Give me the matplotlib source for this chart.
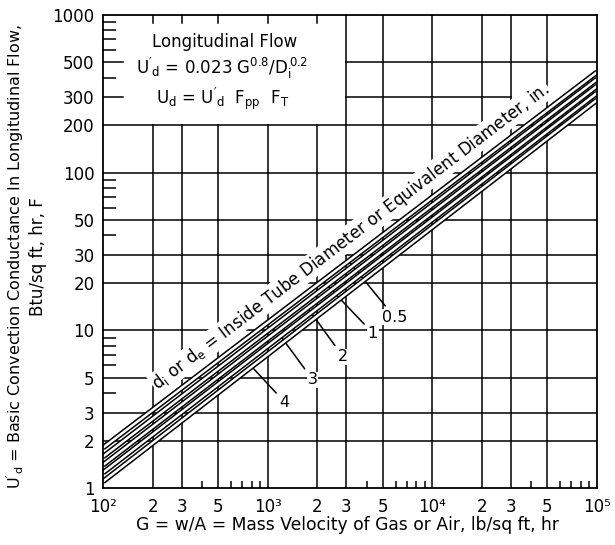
import numpy as np
import matplotlib
matplotlib.use("Agg")
import matplotlib.pyplot as plt
from matplotlib.ticker import FixedLocator, NullFormatter

plt.rcParams['font.family'] = ['DejaVu Sans']
plt.rcParams['mathtext.default'] = 'regular'

# ---------------- data ----------------
diameters = ['0.5', '1', '2', '3', '4']          # inches
g_range = [1e2, 1e5]                              # lb/sq ft hr
u_at_gmin = [1.8, 1.58, 1.4, 1.25, 1.1]           # U'd at G = 1e2
u_at_gmax = [434, 392, 354, 320, 289]             # U'd at G = 1e5

x_ticks = [1e2, 2e2, 3e2, 5e2, 1e3, 2e3, 3e3, 5e3, 1e4, 2e4, 3e4, 5e4, 1e5]
x_tick_labels = ['10²', '2', '3', '5', '10³', '2', '3', '5', '10⁴', '2', '3', '5', '10⁵']
y_ticks = [1, 2, 3, 5, 10, 20, 30, 50, 100, 200, 300, 500, 1000]
y_tick_labels = ['1', '2', '3', '5', '10', '20', '30', '50', '100', '200', '300', '500', '1000']

# label positions (G, U) and leader target G for each diameter
label_pos = [(5900, 12.1), (4350, 9.6), (2870, 6.8), (1880, 4.85), (1270, 3.5)]
leader_target_g = [3100, 2300, 1750, 1200, 800]

# ---------------- figure ----------------
W, H = 615, 545
fig = plt.figure(figsize=(W / 100, H / 100), dpi=100)
L, R, T, B = 103, 597, 15, 488
ax = fig.add_axes([L / W, 1 - B / H, (R - L) / W, (B - T) / H])
ax.set_xscale('log')
ax.set_yscale('log')
ax.set_xlim(g_range[0], g_range[1])
ax.set_ylim(1, 1000)

for s in ax.spines.values():
    s.set_linewidth(1.3)
    s.set_zorder(5)

ax.set_xticks(x_ticks)
ax.set_xticklabels(x_tick_labels, fontsize=12)
ax.set_yticks(y_ticks)
ax.set_yticklabels(y_tick_labels, fontsize=12)

mult = [4, 6, 7, 8, 9]
ax.xaxis.set_minor_locator(FixedLocator([m * d for d in (1e2, 1e3, 1e4) for m in mult]))
ax.yaxis.set_minor_locator(FixedLocator([m * d for d in (1, 10, 100) for m in mult]))
ax.xaxis.set_minor_formatter(NullFormatter())
ax.yaxis.set_minor_formatter(NullFormatter())
ax.tick_params(axis='x', which='major', length=0, pad=7)
ax.tick_params(axis='y', which='major', length=0, pad=6)
ax.tick_params(axis='x', which='minor', direction='in', length=5, width=1.1)
ax.tick_params(axis='y', which='minor', direction='in', length=9, width=1.1)

# ---------------- grid (with blank box at top-left) ----------------
gl = dict(color='black', lw=1.1, zorder=1)
frac200 = np.log10(200) / 3
for xv in x_ticks[1:-1]:
    if xv < 3e3:
        ax.axvline(xv, 0, frac200, **gl)
        ax.axvline(xv, 1 - 8 / 473, 1, **gl)
    else:
        ax.axvline(xv, 0, 1, **gl)
fx3e3 = np.log10(30) / 3
fx3e4 = np.log10(300) / 3
for yv in y_ticks[1:-1]:
    if yv == 300:
        ax.axhline(yv, fx3e3, fx3e4, **gl)
        ax.axhline(yv, 0, 20 / 494, **gl)
    elif yv == 500:
        ax.axhline(yv, fx3e3, 1, **gl)
        ax.axhline(yv, 0, 20 / 494, **gl)
    else:
        ax.axhline(yv, 0, 1, **gl)

# ---------------- diameter lines (hollow strokes) ----------------
for u0, u1 in zip(u_at_gmin, u_at_gmax):
    ax.plot(g_range, [u0, u1], color='black', lw=4.0, solid_capstyle='butt', zorder=3)
for u0, u1 in zip(u_at_gmin, u_at_gmax):
    ax.plot(g_range, [u0, u1], color='white', lw=1.8, solid_capstyle='butt', zorder=3.5)

# ---------------- labels with leaders ----------------
lg = np.log10(g_range[1] / g_range[0])
for d, (gx, uy), gt, u0, u1 in zip(diameters, label_pos, leader_target_g, u_at_gmin, u_at_gmax):
    k = np.log10(u1 / u0) / lg
    ut = u0 * (gt / g_range[0]) ** k
    ax.annotate(d, xy=(gt, ut), xytext=(gx, uy), fontsize=11.5, ha='center', va='center',
                arrowprops=dict(arrowstyle='-', lw=1.1, color='black', shrinkA=3, shrinkB=0),
                bbox=dict(fc='white', ec='none', pad=0.5), zorder=2.5)

# ---------------- diagonal caption ----------------
slope_px = np.log10(u_at_gmax[0] / u_at_gmin[0]) / 3 * (B - T) / (np.log10(g_range[1] / g_range[0]) / 3 * (R - L))
angle = np.degrees(np.arctan(slope_px))
ax.text(0.501, 0.532, '$d_i$ or $d_e$ = Inside Tube Diameter or Equivalent Diameter, in.',
        transform=ax.transAxes, rotation=angle, rotation_mode='anchor', ha='center', va='center',
        fontsize=12, bbox=dict(fc='white', ec='none', pad=0.6), zorder=4)

# ---------------- box text ----------------
ax.text(0.247, 0.943, 'Longitudinal Flow', transform=ax.transAxes, ha='center', va='center', fontsize=12)
ax.text(0.24, 0.886, "$U'_d$ = 0.023 $G^{0.8}$/$D_i^{\\,0.2}$", transform=ax.transAxes,
        ha='center', va='center', fontsize=12)
ax.text(0.243, 0.823, "$U_d$ = $U'_d$  $F_{pp}$  $F_T$", transform=ax.transAxes,
        ha='center', va='center', fontsize=12)

# ---------------- axis titles ----------------
fig.text(15 / W, 1 - 257 / H, "$U'_d$ = Basic Convection Conductance In Longitudinal Flow,",
         rotation=90, ha='center', va='center', fontsize=11.5)
fig.text(38 / W, 1 - 257 / H, "Btu/sq ft, hr, F", rotation=90, ha='center', va='center', fontsize=12)
fig.text(348 / W, 1 - 525 / H, "G = w/A = Mass Velocity of Gas or Air, lb/sq ft, hr",
         ha='center', va='center', fontsize=12.3)

fig.savefig('out.png', dpi=100)
